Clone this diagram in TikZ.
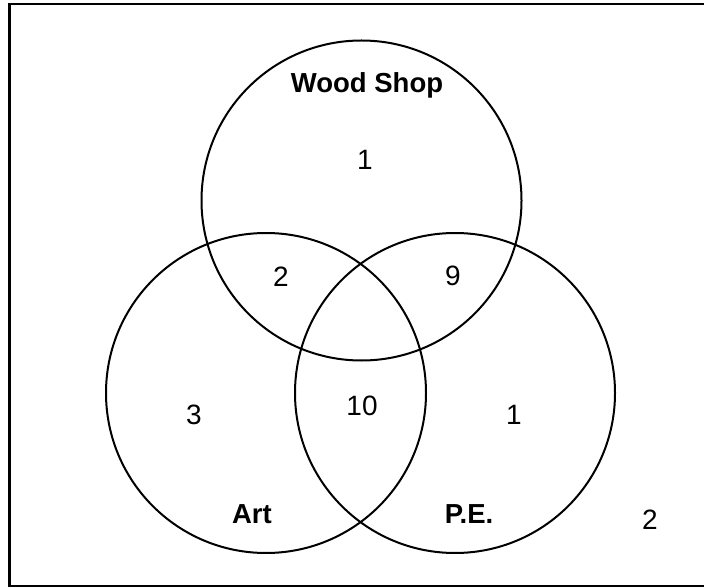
\documentclass[tikz,border=0pt]{standalone}
\usepackage{fontspec}
\setmainfont{Liberation Sans}
\begin{document}
\begin{tikzpicture}[x=1pt,y=1pt,
  vennset/.style={circle, draw=black, line width=2pt, minimum size=320pt, inner sep=0pt},
  setname/.style={anchor=base, inner sep=0pt, font=\fontsize{27.5}{30}\selectfont\bfseries},
  count/.style={anchor=base, inner sep=0pt, font=\fontsize{28}{30}\selectfont}]
\useasboundingbox (0,0) rectangle (704,587);
\begin{scope}
  \clip (0,0) rectangle (704,587);
  \draw[line width=2.5pt] (9.5,583) rectangle (730,1) node[coordinate] (frame) {};
\end{scope}
% circles
\node[vennset] (wood) at (361.5,386.5) {};
\node[vennset] (art) at (266,194) {};
\node[vennset] (pe) at (455,194) {};
% set names
\node[setname] (woodlbl) at (367,494) {Wood Shop};
\node[setname] (artlbl) at (252,64) {Art};
\node[setname] (pelbl) at (469,64) {P.E.};
% counts
\node[count] (nwood) at (365,417) {1};
\node[count] (nwa) at (281,300) {2};
\node[count] (nwp) at (453,301) {9};
\node[count] (nart) at (194,163) {3};
\node[count] (nall) at (362,172) {10};
\node[count] (npe) at (514,163) {1};
\node[count] (nnone) at (650,58) {2};
\end{tikzpicture}
\end{document}
